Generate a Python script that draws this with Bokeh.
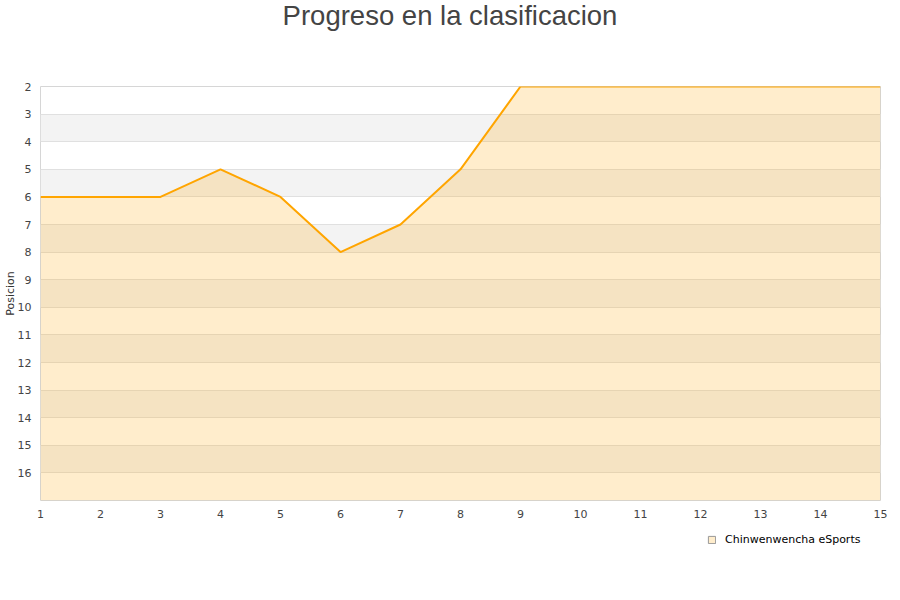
from bokeh.plotting import figure
from bokeh.layouts import column
from bokeh.models import Range1d, FixedTicker, Legend, LegendItem, ColumnDataSource, Label
from bokeh.embed import file_html
from bokeh.resources import INLINE

title_text = "Progreso en la clasificacion"
y_label = "Posicion"
team = "Chinwenwencha eSports"
jornadas = list(range(1, 16))
posiciones = [6, 6, 6, 5, 6, 8, 7, 5, 2, 2, 2, 2, 2, 2, 2]
y_ticks = list(range(2, 17))
y_min, y_max = 2, 17
x_min, x_max = 1, 15

W = 892
ML = 40
MR = W - 880
TH = 40           # title strip height
MT = 86 - TH
MB = 24
H = MT + 414 + MB
LH = 60           # legend strip height


def strip(height):
    f = figure(width=W, height=height, output_backend="svg", toolbar_location=None,
               x_range=Range1d(0, 1), y_range=Range1d(0, 1),
               min_border_left=ML, min_border_right=MR, min_border_top=0, min_border_bottom=0)
    f.axis.visible = False
    f.grid.visible = False
    f.outline_line_color = None
    f.background_fill_color = "white"
    f.border_fill_color = "white"
    return f


# title strip
tf = strip(TH)
tf.add_layout(Label(x=449.5 - ML, y=TH - 15, x_units="screen", y_units="screen",
                    text=title_text, text_align="center", text_baseline="middle",
                    text_font="Liberation Sans", text_font_size="27.5px", text_color="#444444"))

p = figure(width=W, height=H, output_backend="svg", toolbar_location=None,
           x_range=Range1d(x_min, x_max), y_range=Range1d(y_max, y_min),
           min_border_left=ML, min_border_right=MR, min_border_top=MT, min_border_bottom=MB)
p.background_fill_color = "white"
p.border_fill_color = "white"
p.outline_line_color = "#d6d6d6"
p.outline_line_width = 1

# y axis
p.yaxis.ticker = FixedTicker(ticks=y_ticks)
p.yaxis.axis_line_color = None
p.yaxis.major_tick_line_color = None
p.yaxis.minor_tick_line_color = None
p.yaxis.major_tick_out = 0
p.yaxis.major_label_standoff = 9
p.yaxis.major_label_text_font = "DejaVu Sans"
p.yaxis.major_label_text_font_size = "11px"
p.yaxis.major_label_text_color = "#444444"
p.yaxis.axis_label = y_label
p.yaxis.axis_label_standoff = -2
p.yaxis.axis_label_text_font = "DejaVu Sans"
p.yaxis.axis_label_text_font_size = "11px"
p.yaxis.axis_label_text_font_style = "normal"
p.yaxis.axis_label_text_color = "#333333"

# x axis
p.xaxis.ticker = FixedTicker(ticks=jornadas)
p.xaxis.axis_line_color = None
p.xaxis.major_tick_line_color = None
p.xaxis.minor_tick_line_color = None
p.xaxis.major_tick_out = 0
p.xaxis.major_label_standoff = 9
p.xaxis.major_label_text_font = "DejaVu Sans"
p.xaxis.major_label_text_font_size = "11px"
p.xaxis.major_label_text_color = "#444444"

p.xgrid.grid_line_color = None
p.ygrid.ticker = FixedTicker(ticks=y_ticks + [y_max])
p.ygrid.grid_line_color = "#e0e0e0"
p.ygrid.band_fill_color = "#f3f3f3"
p.ygrid.band_fill_alpha = 1.0

src = ColumnDataSource(dict(x=jornadas, y=posiciones, base=[y_max] * len(jornadas)))
p.varea(x="x", y1="y", y2="base", source=src, fill_color="orange", fill_alpha=0.2)
p.line(x="x", y="y", source=src, line_color="#ffa500", line_width=2)

# legend strip
lf = strip(LH)
swatch = lf.quad(left=[5], right=[6], top=[6], bottom=[5], fill_color="#ffedcc",
                 line_color="#999999", line_width=1)
legend = Legend(items=[LegendItem(label=team, renderers=[swatch])],
                location=(707 - ML, LH - (540 - (TH + H)) - 6), orientation="horizontal",
                glyph_width=9, glyph_height=9, label_standoff=9,
                label_text_font="DejaVu Sans", label_text_font_size="11px", label_text_color="#000000",
                label_height=12, padding=0, margin=0, spacing=0,
                border_line_color=None, background_fill_alpha=0)
lf.add_layout(legend, "center")

layout = column(tf, p, lf, spacing=0)
open("out.html", "w").write(file_html(layout, INLINE))
